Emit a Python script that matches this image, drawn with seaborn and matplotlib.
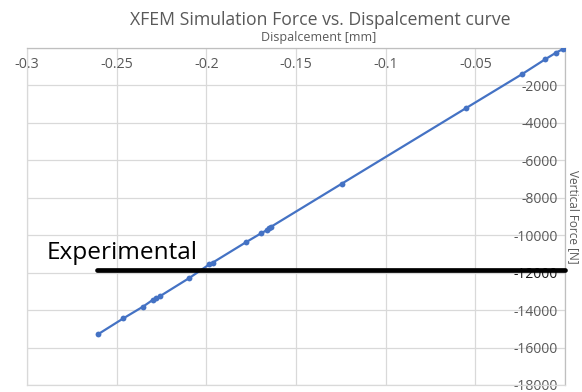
import matplotlib
matplotlib.use("Agg")
import matplotlib.pyplot as plt
import seaborn as sns
import pandas as pd

# ---- data ----
disp = [0.0, -0.001, -0.005, -0.011, -0.024, -0.055, -0.1244, -0.1639, -0.1652,
        -0.1663, -0.1696, -0.1778, -0.1965, -0.1983, -0.2095, -0.2259, -0.228,
        -0.2296, -0.2352, -0.2464, -0.2603]
force = [0, -50, -250, -600, -1400, -3200, -7243, -9548, -9639, -9730, -9905,
         -10368, -11466, -11556, -12285, -13260, -13367, -13436, -13808, -14448,
         -15284]
exp_x = [-0.2612, 0.0]
exp_y = [-11860, -11860]
x_ticks = [-0.3, -0.25, -0.2, -0.15, -0.1, -0.05, 0.0]
x_labels = ["-0.3", "-0.25", "-0.2", "-0.15", "-0.1", "-0.05", ""]
y_ticks = [0, -2000, -4000, -6000, -8000, -10000, -12000, -14000, -16000, -18000]
y_labels = ["", "-2000", "-4000", "-6000", "-8000", "-10000", "-12000", "-14000",
            "-16000", "-18000"]

sns.set_theme(style="white")
plt.rcParams['font.family'] = ['Open Sans', 'DejaVu Sans']

df = pd.DataFrame({"disp": disp, "force": force})

fig = plt.figure(figsize=(5.82, 3.92), dpi=100)
ax = fig.add_axes([27/582, 1-385/392, (565-27)/582, (385-48)/392])

grey = "#595959"
gridc = "#d9d9d9"

sns.lineplot(data=df, x="disp", y="force", ax=ax, sort=False, estimator=None,
             color="#4472C4", linewidth=1.6, marker="o", markersize=4.2,
             markeredgewidth=0, zorder=3)

ax.plot(exp_x, exp_y, color="black", linewidth=3.4, solid_capstyle="round",
        clip_on=False, zorder=4)
ax.text(-0.2888, -11290, "Experimental", fontsize=17.6, color="black",
        ha="left", va="baseline", zorder=5)

ax.set_xlim(-0.3, 0)
ax.set_ylim(-18000, 0)

ax.xaxis.tick_top()
ax.set_xticks(x_ticks, x_labels)
ax.tick_params(axis="x", top=False, bottom=False, labeltop=True, labelbottom=False,
               length=0, pad=-17, labelsize=10.3, labelcolor=grey)

ax.yaxis.tick_right()
ax.set_yticks(y_ticks, y_labels, ha="right")
ax.tick_params(axis="y", left=False, right=False, labelright=True, labelleft=False,
               length=0, pad=-5, labelsize=10, labelcolor=grey)
for lbl in ax.get_yticklabels():
    if lbl.get_text() == "-12000":
        lbl.set_color("#1a1a1a")

ax.grid(True, color=gridc, linewidth=0.9)
ax.set_axisbelow(True)
for s in ax.spines.values():
    s.set_color(gridc)
    s.set_linewidth(0.9)
ax.spines["top"].set_color("#bfbfbf")
ax.spines["right"].set_color("#bfbfbf")

ax.set_xlabel("")
ax.set_ylabel("")

fig.text(320/582, 1-20/392, "XFEM Simulation Force vs. Dispalcement curve",
         fontsize=12.7, color=grey, ha="center", va="center")
fig.text(319/582, 1-37/392, "Dispalcement [mm]", fontsize=9, color=grey,
         ha="center", va="center")
fig.text(573/582, 1-217/392, "Vertical Force [N]", fontsize=8.5, color=grey,
         ha="center", va="center", rotation=-90)

fig.savefig("out.png", dpi=100)
